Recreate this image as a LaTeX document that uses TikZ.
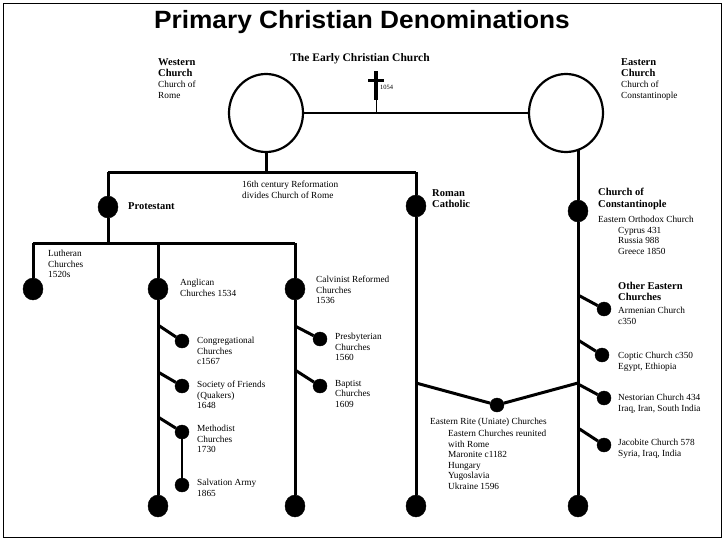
\documentclass[tikz,border=0pt]{standalone}
\usepackage{fontspec}
\setmainfont{Liberation Serif}
\newfontfamily\titlefont{Liberation Sans}
\begin{document}
\begin{tikzpicture}[x=1pt,y=-1pt,
  big/.style={ellipse,draw,fill=black,minimum width=20pt,minimum height=22pt,inner sep=0pt},
  sm/.style={circle,draw,fill=black,minimum size=14pt,inner sep=0pt},
  ring/.style={ellipse,draw,line width=2.2pt,minimum width=74pt,minimum height=78pt,inner sep=0pt},
  ln/.style={line width=3pt},
  lbl/.style={anchor=north west,align=left,font=\fontsize{9.3}{10.5}\selectfont,inner sep=0pt},
  blbl/.style={anchor=north west,align=left,font=\fontsize{10.5}{11.5}\selectfont\bfseries,inner sep=0pt}]
\usetikzlibrary{shapes.geometric}
\useasboundingbox (0,0) rectangle (728,546);
\draw[line width=1pt] (3,3) rectangle (721,537);
\node[xscale=1.05] (title) at (362,22) {\titlefont\fontsize{25}{27}\selectfont\bfseries Primary Christian Denominations};
\node[font=\fontsize{11.5}{13}\selectfont\bfseries] (early) at (360,59) {The Early Christian Church};
\node[ring] (W) at (266,113) {};
\node[ring] (E) at (566,113) {};
\draw[line width=2pt] (W.east) -- (E.west);
\draw[line width=3.5pt] (376,71) -- (376,100); \draw[line width=3pt] (368,80) -- (384,80);
\coordinate (cr) at (376,100); \coordinate (crb) at (376,113);
\draw[line width=1pt] (cr) -- (crb);
\node[lbl,font=\fontsize{6.5}{7}\selectfont] (y1054) at (380,85) {1054};
\node[blbl] (wc) at (158,58) {Western\\Church};
\node[lbl] (wc2) at (158,81) {Church of\\Rome};
\node[blbl] (ec) at (621,58) {Eastern\\Church};
\node[lbl] (ec2) at (621,81) {Church of\\Constantinople};
% western split
\coordinate (wb) at (266,172); \coordinate (hL) at (108,172); \coordinate (hR) at (416,172);
\draw[ln] (W.south) -- (wb);
\draw[ln] (hL) -- (hR);
\node[big] (prot) at (108,207) {};
\node[big] (rc) at (416,206) {};
\draw[ln] (hL) -- (prot); \draw[ln] (hR) -- (rc);
\node[lbl] (ref) at (242,181) {16th century Reformation\\divides Church of Rome};
\node[blbl] (protl) at (128,202) {Protestant};
\node[blbl] (rcl) at (432,189) {Roman\\Catholic};
% protestant
\coordinate (pb) at (108,243); \coordinate (p1) at (33,243); \coordinate (p3) at (295,243);
\draw[ln] (prot) -- (pb); \draw[ln] (p1) -- (p3);
\node[big] (luth) at (33,289) {};
\node[big] (angl) at (158,289) {};
\node[big] (calv) at (295,289) {};
\coordinate (p2) at (158,243);
\draw[ln] (p1) -- (luth); \draw[ln] (p2) -- (angl); \draw[ln] (p3) -- (calv);
\node[big] (anglb) at (158,506) {};
\node[big] (calvb) at (295,506) {};
\draw[ln] (angl) -- (anglb); \draw[ln] (calv) -- (calvb);
\node[lbl] at (48,250) {Lutheran\\Churches\\1520s};
\node[lbl] at (180,279) {Anglican\\Churches 1534};
\node[lbl] at (316,276) {Calvinist Reformed\\Churches\\1536};
% anglican branches
\node[sm] (cong) at (182,341) {}; \coordinate (a1) at (158,325);
\node[sm] (soc) at (182,386) {}; \coordinate (a2) at (158,372);
\node[sm] (meth) at (182,432) {}; \coordinate (a3) at (158,417);
\node[sm] (salv) at (182,485) {};
\draw[ln] (a1) -- (cong); \draw[ln] (a2) -- (soc); \draw[ln] (a3) -- (meth);
\draw[line width=2pt] (meth) -- (salv);
\node[lbl] at (197,337) {Congregational\\Churches\\c1567};
\node[lbl] at (197,381) {Society of Friends\\(Quakers)\\1648};
\node[lbl] at (197,425) {Methodist\\Churches\\1730};
\node[lbl] at (197,479) {Salvation Army\\1865};
% calvinist branches
\node[sm] (pres) at (320,339) {}; \coordinate (c1) at (295,326);
\node[sm] (bapt) at (320,386) {}; \coordinate (c2) at (295,370);
\draw[ln] (c1) -- (pres); \draw[ln] (c2) -- (bapt);
\node[lbl] at (335,333) {Presbyterian\\Churches\\1560};
\node[lbl] at (335,380) {Baptist\\Churches\\1609};
% roman catholic
\node[big] (rcb) at (416,506) {};
\draw[ln] (rc) -- (rcb);
\coordinate (rj) at (416,383); \coordinate (ej) at (578,383);
\node[sm] (uni) at (497,405) {};
\draw[ln] (rj) -- (uni) -- (ej);
\node[lbl] at (430,418) {Eastern Rite (Uniate) Churches};
\node[lbl] at (448,430) {Eastern Churches reunited\\with Rome\\Maronite c1182\\Hungary\\Yugoslavia\\Ukraine 1596};
% eastern
\coordinate (et) at (578,150);
\node[big] (cc) at (578,211) {};
\node[big] (ccb) at (578,506) {};
\draw[ln] (et) -- (cc) -- (ccb);
\node[blbl] at (598,188) {Church of\\Constantinople};
\node[lbl] at (598,216) {Eastern Orthodox Church};
\node[lbl] at (618,227) {Cyprus 431\\Russia 988\\Greece 1850};
\node[blbl] at (618,282) {Other Eastern\\Churches};
\node[sm] (arm) at (604,309) {}; \coordinate (e1) at (578,295);
\node[sm] (copt) at (602,355) {}; \coordinate (e2) at (578,340);
\node[sm] (nest) at (604,398) {}; \coordinate (e3) at (578,384);
\node[sm] (jac) at (604,445) {}; \coordinate (e4) at (578,428);
\draw[ln] (e1) -- (arm); \draw[ln] (e2) -- (copt); \draw[ln] (e3) -- (nest); \draw[ln] (e4) -- (jac);
\node[lbl] at (618,307) {Armenian Church\\c350};
\node[lbl] at (618,352) {Coptic Church c350\\Egypt, Ethiopia};
\node[lbl] at (618,394) {Nestorian Church 434\\Iraq, Iran, South India};
\node[lbl] at (618,439) {Jacobite Church 578\\Syria, Iraq, India};
\end{tikzpicture}
\end{document}
